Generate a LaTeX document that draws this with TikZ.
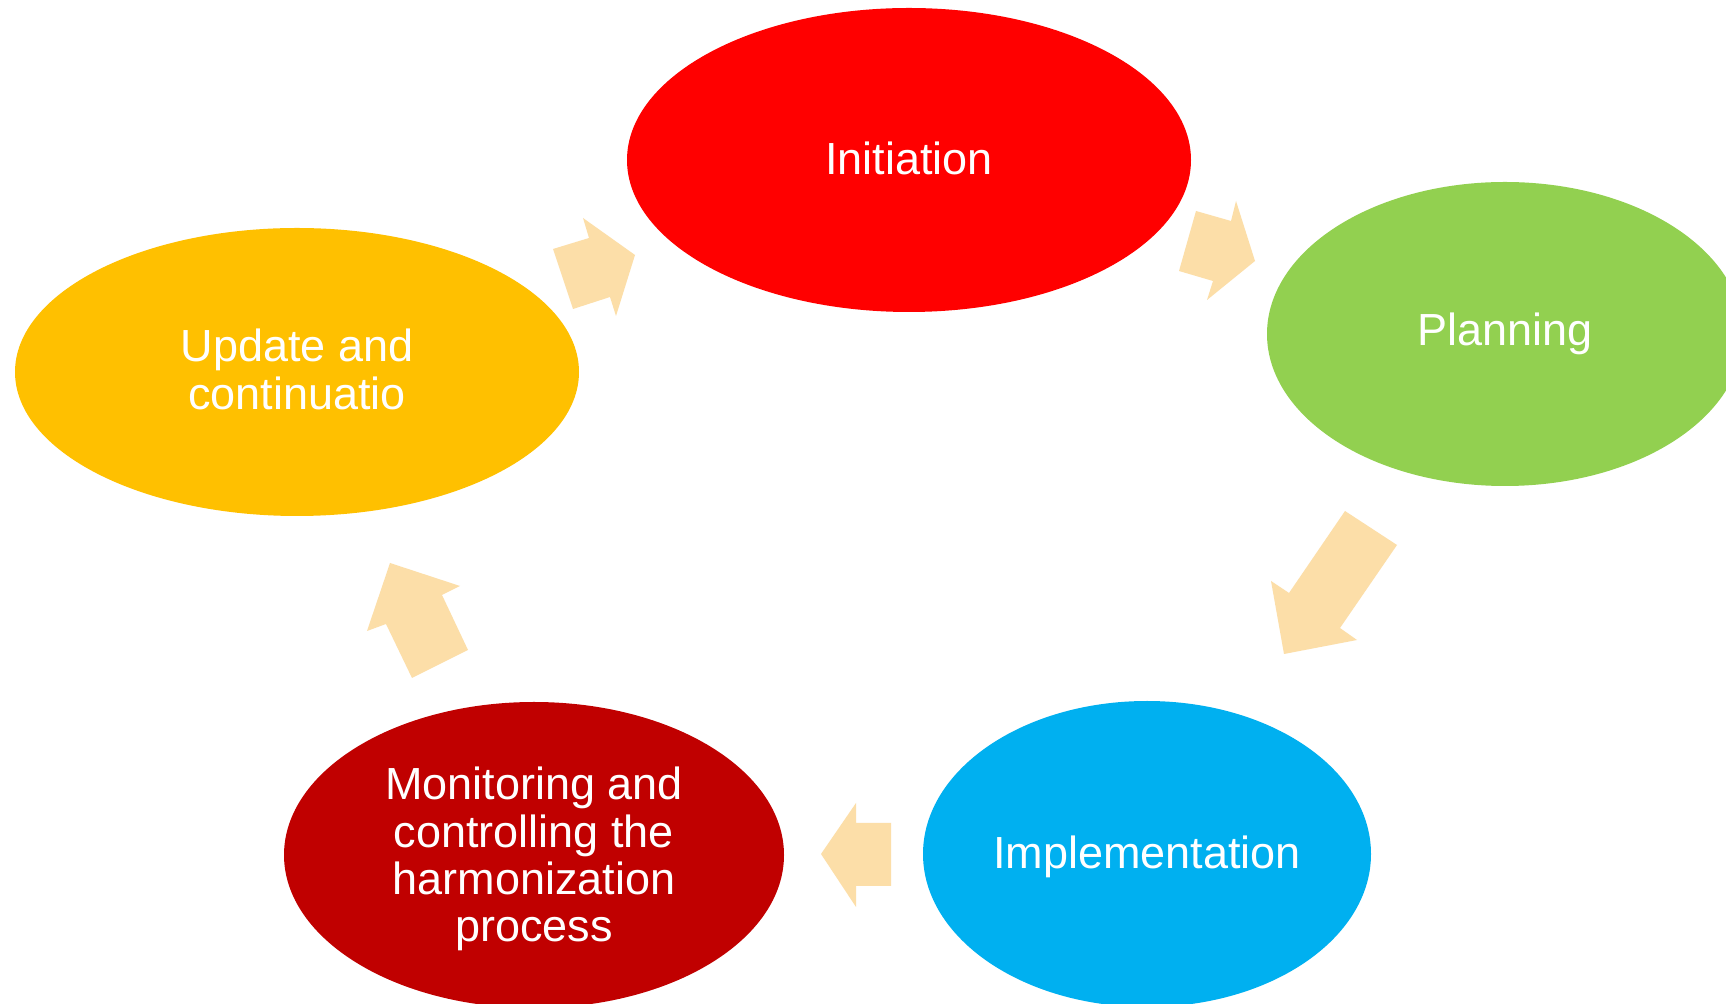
\documentclass[tikz,border=0pt]{standalone}
\usepackage{fontspec}
\setmainfont{Liberation Sans}
\usetikzlibrary{shapes.geometric}
\definecolor{cInit}{RGB}{255,0,0}
\definecolor{cPlan}{RGB}{146,208,80}
\definecolor{cImpl}{RGB}{0,176,240}
\definecolor{cMon}{RGB}{192,0,0}
\definecolor{cUpd}{RGB}{255,192,0}
\definecolor{cArr}{RGB}{252,222,168}
\tikzset{
  phase/.style={ellipse, inner sep=0pt, text=white, align=center,
    font=\fontsize{22.5}{23.6}\selectfont},
  blockarrow/.style={fill=cArr}
}
\begin{document}
\begin{tikzpicture}[x=0.5pt,y=-0.5pt]
\useasboundingbox (0,0) rectangle (1726,1004);
\clip (0,0) rectangle (1726,1004);
\fill[white] (0,0) rectangle (1726,1004);
% phases
\node[phase, fill=cInit, minimum width=282pt, minimum height=152pt] (init) at (909,160) {};
\node[text=white, font=\fontsize{22.5}{23.6}\selectfont, inner sep=0pt] (initT) at (909,158) {Initiation};
\node[phase, fill=cPlan, minimum width=238pt, minimum height=152pt] (plan) at (1505,334) {Planning};
\node[phase, fill=cImpl, minimum width=224pt, minimum height=153pt] (impl) at (1147,854) {};
\node[text=white, font=\fontsize{22.5}{23.6}\selectfont, inner sep=0pt] (implT) at (1147,857) {Implementation};
\node[phase, fill=cMon, minimum width=250pt, minimum height=153pt] (mon) at (534,855) {};
\node[text=white, align=center, font=\fontsize{22.5}{23.6}\selectfont, inner sep=0pt] (monT) at (534,859) {Monitoring and\\controlling the\\harmonization\\process};
\node[phase, fill=cUpd, minimum width=282pt, minimum height=144pt] (upd) at (297,372) {};
\node[text=white, align=center, font=\fontsize{22.5}{23.6}\selectfont, inner sep=0pt] (updT) at (297,369.5) {Update and\\continuatio};
% block arrows
\fill[blockarrow] (1196,211) -- (1231,221) -- (1236,201) -- (1255,261) -- (1207,300) -- (1213,281) -- (1179,271) -- cycle;
\fill[blockarrow] (1345,511) -- (1397,545) -- (1340,628) -- (1357,640) -- (1284,654) -- (1271,581) -- (1289,593) -- cycle;
\fill[blockarrow] (891,823) -- (891,886) -- (856,886) -- (856,907) -- (821,854) -- (856,803) -- (856,823) -- cycle;
\fill[blockarrow] (412,678) -- (468,650) -- (442,595) -- (460,586) -- (390,563) -- (367,631) -- (386,624) -- cycle;
\fill[blockarrow] (553,249) -- (589,238) -- (583,218) -- (635,255) -- (616,316) -- (610,297) -- (573,309) -- cycle;
\end{tikzpicture}
\end{document}
